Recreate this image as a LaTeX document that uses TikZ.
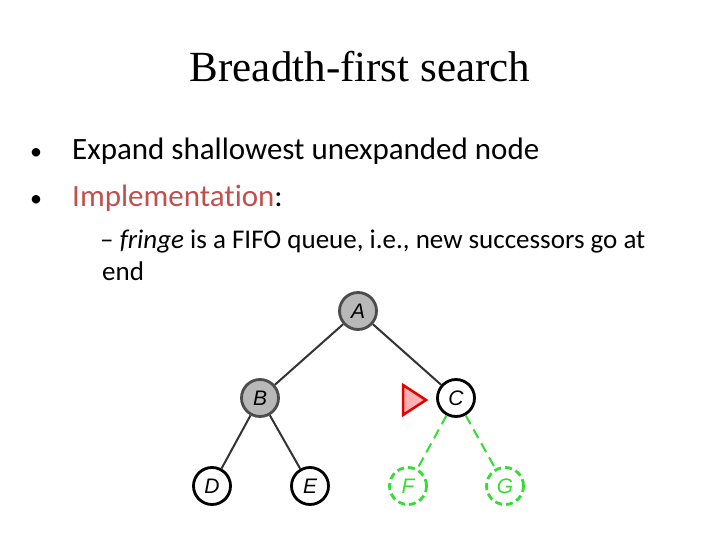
\documentclass[tikz,border=0pt]{standalone}
\usepackage{fontspec}
\setmainfont{Carlito}[Ligatures=NoCommon]
\newfontfamily\titlefont{Liberation Serif}
\newfontfamily\helv{Liberation Sans}
\definecolor{impl}{HTML}{C0504D}
\definecolor{fgreen}{HTML}{33DD33}
\begin{document}
\begin{tikzpicture}[x=1pt,y=-1pt,
  tn/.style={circle,draw=black,line width=2.8pt,minimum size=37pt,inner sep=0pt,font=\helv\itshape\fontsize{21}{21}\selectfont},
  exp/.style={tn,fill=black!28,draw=black!70},
  fr/.style={tn,draw=fgreen,text=fgreen,dash pattern=on 7pt off 4pt},
  edge/.style={draw=black!80,line width=2pt},
  gedge/.style={draw=fgreen,line width=2pt,dash pattern=on 10pt off 6pt},
  txt/.style={anchor=base west,inner sep=0pt,font=\fontsize{31}{31}\selectfont}]
\useasboundingbox (0,0) rectangle (720,540);
\node[anchor=base,inner sep=0pt,font=\titlefont\fontsize{43}{43}\selectfont] (title) at (360,82) {Breadth-first search};
\node[txt,font=\fontsize{24}{24}\selectfont] (b1d) at (30,160) {•};
\node[txt] (b1) at (72,160) {Expand shallowest unexpanded node};
\node[txt,font=\fontsize{24}{24}\selectfont] (b2d) at (30,207) {•};
\node[txt] (b2) at (72,207) {\textcolor{impl}{Implementation}:};
\node[txt,font=\fontsize{27}{27}\selectfont] (s1) at (100,248) {– \textit{fringe} is a FIFO queue, i.e., new successors go at};
\node[txt,font=\fontsize{27}{27}\selectfont] (s2) at (102,280) {end};
\node[exp] (A) at (358,311) {A};
\node[exp] (B) at (260,398) {B};
\node[tn] (C) at (456,398) {C};
\node[tn] (D) at (212,486) {D};
\node[tn] (E) at (310,486) {E};
\node[fr] (F) at (408,486) {F};
\node[fr] (G) at (505,486) {G};
\draw[edge] (A) -- (B);
\draw[edge] (A) -- (C);
\draw[edge] (B) -- (D);
\draw[edge] (B) -- (E);
\draw[gedge] (C) -- (F);
\draw[gedge] (C) -- (G);
\coordinate (t1) at (403,385);
\coordinate (t2) at (403,415);
\coordinate (t3) at (426,400);
\draw[red!90!black,fill=red!30,line width=2.5pt,line join=miter] (t1) -- (t3) -- (t2) -- cycle;
\end{tikzpicture}
\end{document}
